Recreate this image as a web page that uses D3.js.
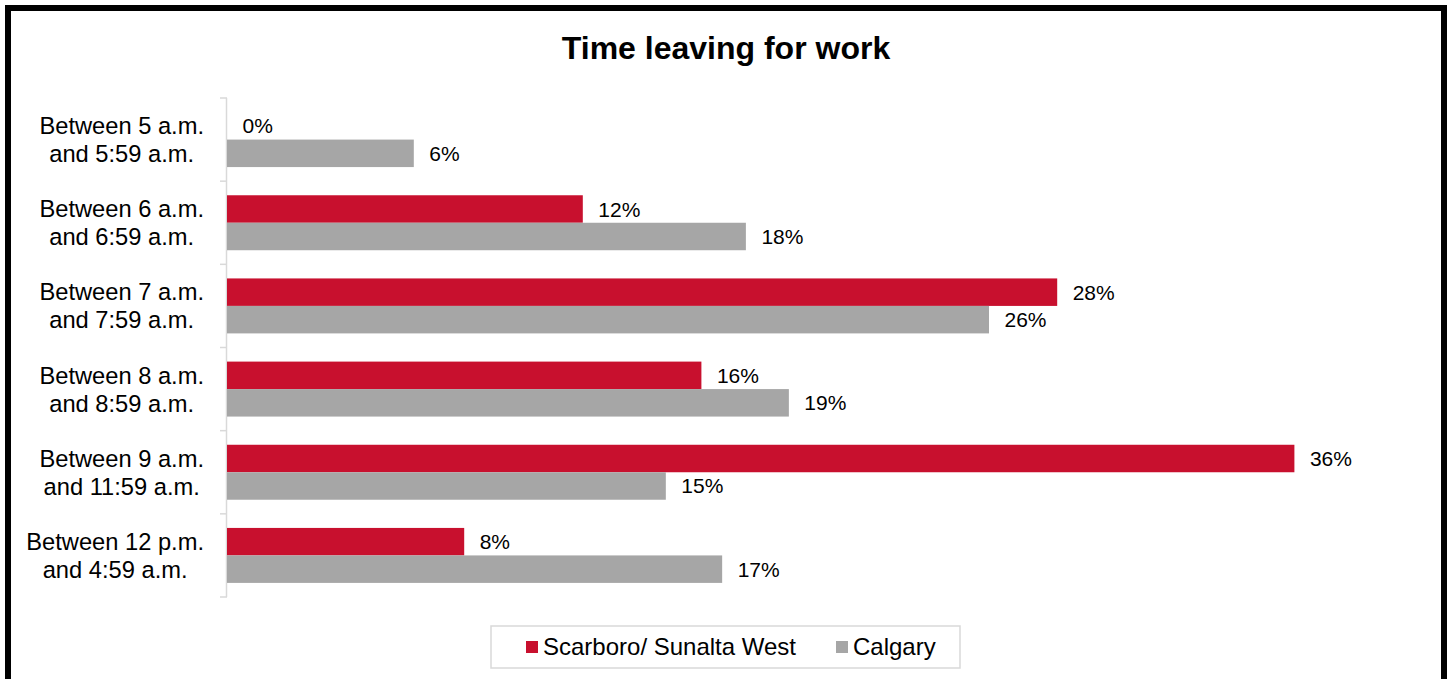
<!DOCTYPE html>
<html>
<head>
<meta charset="utf-8">
<script src="https://cdn.jsdelivr.net/npm/d3@7"></script>
<style>
  body { margin: 0; background: #fff; }
  svg { display: block; font-family: "Liberation Sans", Arial, sans-serif; }
</style>
</head>
<body>
<svg id="canvas" width="1452" height="679"></svg>
<script>
'use strict';

// chart data
var categories = [
  ['Between 5 a.m.', 'and 5:59 a.m.'],
  ['Between 6 a.m.', 'and 6:59 a.m.'],
  ['Between 7 a.m.', 'and 7:59 a.m.'],
  ['Between 8 a.m.', 'and 8:59 a.m.'],
  ['Between 9 a.m.', 'and 11:59 a.m.'],
  ['Between 12 p.m.', 'and 4:59 a.m.']
];
var seriesNames = ['Scarboro/ Sunalta West', 'Calgary'];
var scarboroValues = [0, 12.0, 28.0, 16.0, 36.0, 8.0];
var calgaryValues = [6.3, 17.5, 25.7, 18.95, 14.8, 16.7];
var seriesColors = ['#c8102e', '#a6a6a6'];

var W = 1452, H = 679;
var plot = {top: 98, bottom: 597, left: 227, right: 1413};

var svg = d3.select('svg#canvas');

/* outer frame */
svg.append('rect')
  .attr('x', 8).attr('y', 8)
  .attr('width', W - 16).attr('height', H + 20)
  .attr('fill', 'none')
  .attr('stroke', '#000')
  .attr('stroke-width', 6);

/* title */
svg.append('text')
  .attr('x', 726).attr('y', 59)
  .attr('text-anchor', 'middle')
  .style('font-size', '32px')
  .style('font-weight', 'bold')
  .text('Time leaving for work');

var idx = d3.range(categories.length);
var pad = 0.339;
var y = d3.scaleBand()
  .domain(idx)
  .range([plot.top, plot.bottom])
  .paddingInner(pad)
  .paddingOuter(pad / 2);
var y1 = d3.scaleBand()
  .domain([0, 1])
  .range([0, y.bandwidth()]);
var x = d3.scaleLinear()
  .domain([0, 40])
  .range([plot.left, plot.right]);

/* category axis: line + tick marks between the groups */
var axis = svg.append('g').attr('id', 'left-axis');
axis.append('line')
  .attr('x1', plot.left - 0.5).attr('x2', plot.left - 0.5)
  .attr('y1', plot.top).attr('y2', plot.bottom)
  .attr('stroke', '#d9d9d9').attr('stroke-width', 1.5);
var bounds = idx.map(function(i){ return y(i) - y.step() * pad / 2; })
  .concat([plot.bottom]);
axis.selectAll('line.tick').data(bounds).enter().append('line')
  .attr('class', 'tick')
  .attr('x1', plot.left - 7).attr('x2', plot.left)
  .attr('y1', function(d){ return d; }).attr('y2', function(d){ return d; })
  .attr('stroke', '#d9d9d9').attr('stroke-width', 1.5);

/* category labels, lines centered on each other, block right aligned */
var labelRight = 204;
idx.forEach(function(i){
  var cy = y(i) + y.bandwidth() / 2;
  var g = axis.append('g');
  var lines = categories[i];
  var texts = g.selectAll('text').data(lines).enter().append('text')
    .attr('y', function(d, j){ return cy - 5.5 + j * 28; })
    .attr('text-anchor', 'middle')
    .style('font-size', '23.7px')
    .style('fill', '#000')
    .text(function(d){ return d; });
  var maxW = d3.max(texts.nodes(), function(n){ return n.getComputedTextLength(); });
  texts.attr('x', labelRight - maxW / 2);
});

/* bars */
var series = [scarboroValues, calgaryValues];
var bars = svg.append('g').attr('id', 'bars');
series.forEach(function(vals, s){
  var rows = idx.map(function(i){ return {i: i, v: vals[i]}; });
  bars.selectAll('rect.s' + s).data(rows).enter().append('rect')
    .attr('class', 's' + s)
    .attr('x', x(0))
    .attr('y', function(d){ return y(d.i) + y1(s); })
    .attr('width', function(d){ return x(d.v) - x(0); })
    .attr('height', y1.bandwidth())
    .attr('fill', seriesColors[s]);
  bars.selectAll('text.s' + s).data(rows).enter().append('text')
    .attr('class', 's' + s)
    .attr('x', function(d){ return x(d.v) + 15.5; })
    .attr('y', function(d){ return y(d.i) + y1(s) + y1.bandwidth() / 2 + 7.5; })
    .style('font-size', '21px')
    .text(function(d){ return Math.round(d.v) + '%'; });
});

/* legend */
var legend = svg.append('g').attr('id', 'legend');
legend.append('rect')
  .attr('x', 491).attr('y', 626)
  .attr('width', 469).attr('height', 42)
  .attr('fill', '#fff')
  .attr('stroke', '#d9d9d9').attr('stroke-width', 1.5);
var legendX = [526, 836];
seriesNames.forEach(function(name, s){
  legend.append('rect')
    .attr('x', legendX[s]).attr('y', 641)
    .attr('width', 12).attr('height', 12)
    .attr('fill', seriesColors[s]);
  legend.append('text')
    .attr('x', legendX[s] + 17).attr('y', 655)
    .style('font-size', '24px')
    .text(name);
});
</script>
</body>
</html>
